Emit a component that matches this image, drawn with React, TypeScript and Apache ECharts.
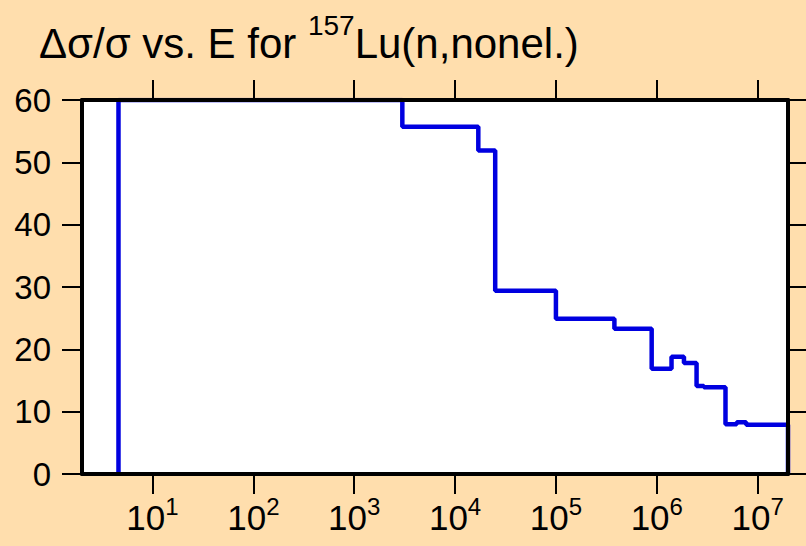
import React, { useEffect, useRef } from "react";
import * as echarts from "echarts";

const titleMain = "Δσ/σ vs. E for ";
const titleSup = "157";
const titleTail = "Lu(n,nonel.)";

// Bin edges (eV) and the relative uncertainty (%) in each bin
const binEdges = [4.6, 3000, 1.7e4, 2.5e4, 1.0e5, 3.8e5, 8.9e5, 1.4e6, 1.86e6, 2.48e6, 2.93e6, 4.8e6, 6.2e6, 7.7e6, 2.0e7];
const binValues = [60, 55.7, 51.9, 29.4, 24.9, 23.3, 16.9, 18.8, 17.8, 14.1, 13.9, 8.0, 8.3, 7.9];

const xMin = 2;
const xMax = 2e7;
const xTickValues = [10, 100, 1000, 1e4, 1e5, 1e6, 1e7];
const yTickValues = [0, 10, 20, 30, 40, 50, 60];

const FONT = "Liberation Sans, Arial, sans-serif";

export default function App() {
  const ref = useRef<HTMLDivElement>(null);
  useEffect(() => {
    if (!ref.current) return;
    const chart = echarts.init(ref.current, null, { renderer: "svg" });
    const data: [number, number][] = [];
    data.push([binEdges[0], 0]);
    for (let i = 0; i < binValues.length; i++) data.push([binEdges[i], binValues[i]]);
    data.push([binEdges[binEdges.length - 1], binValues[binValues.length - 1]]);
    data.push([binEdges[binEdges.length - 1], 0]);

    const axisLine = () => ({ show: true, onZero: false, lineStyle: { color: "#000", width: 4 } });
    const tick = () => ({ show: true, inside: false, length: 20, lineStyle: { color: "#000", width: 2 } });

    chart.setOption({
      animation: false,
      backgroundColor: "#FFDEAD",
      title: {
        text: `{a|${titleMain}}{s|${titleSup}}{a|${titleTail}}`,
        left: 34,
        top: 6,
        textStyle: {
          fontWeight: "normal",
          rich: {
            a: { fontFamily: FONT, fontSize: 42, fontWeight: "normal", color: "#000", lineHeight: 53, verticalAlign: "bottom" },
            s: { fontFamily: FONT, fontSize: 28, fontWeight: "normal", color: "#000", lineHeight: 28, verticalAlign: "top" },
          },
        },
      },
      grid: { left: 82, right: 18, top: 100, bottom: 72, show: true, backgroundColor: "#fff", borderWidth: 0 },
      xAxis: [
        {
          type: "log",
          min: xMin,
          max: xMax,
          position: "bottom",
          z: 5,
          axisLine: axisLine(),
          axisTick: { ...tick(), customValues: xTickValues },
          splitLine: { show: false },
          minorTick: { show: false },
          axisLabel: {
            customValues: xTickValues,
            margin: 20,
            formatter: (v: number) => `{b|10}{s|${Math.round(Math.log10(v))}}`,
            rich: {
              b: { fontFamily: FONT, fontSize: 35, color: "#000", lineHeight: 41, verticalAlign: "bottom" },
              s: { fontFamily: FONT, fontSize: 24, color: "#000", lineHeight: 24, verticalAlign: "top" },
            },
          },
        },
        {
          type: "value",
          min: Math.log10(xMin),
          max: Math.log10(xMax),
          position: "top",
          z: 5,
          axisLine: axisLine(),
          axisTick: { ...tick(), customValues: xTickValues.map((v) => Math.log10(v)) },
          splitLine: { show: false },
          axisLabel: { show: false },
        },
      ],
      yAxis: [
        {
          type: "value",
          min: 0,
          max: 60,
          interval: 10,
          position: "left",
          z: 5,
          axisLine: axisLine(),
          axisTick: { ...tick(), customValues: yTickValues },
          splitLine: { show: false },
          axisLabel: { customValues: yTickValues, margin: 31, fontFamily: FONT, fontSize: 33, color: "#000" },
        },
        {
          type: "value",
          min: 0,
          max: 60,
          interval: 10,
          position: "right",
          z: 5,
          axisLine: axisLine(),
          axisTick: tick(),
          splitLine: { show: false },
          axisLabel: { show: false },
        },
      ],
      series: [
        {
          type: "line",
          step: "end",
          data,
          showSymbol: false,
          symbol: "none",
          clip: true,
          lineStyle: { color: "#0000E0", width: 4.5 },
          z: 2,
        },
      ],
    });
    return () => chart.dispose();
  }, []);
  return <div ref={ref} style={{ position: "absolute", left: 0, top: 0, width: 806, height: 546 }} />;
}
